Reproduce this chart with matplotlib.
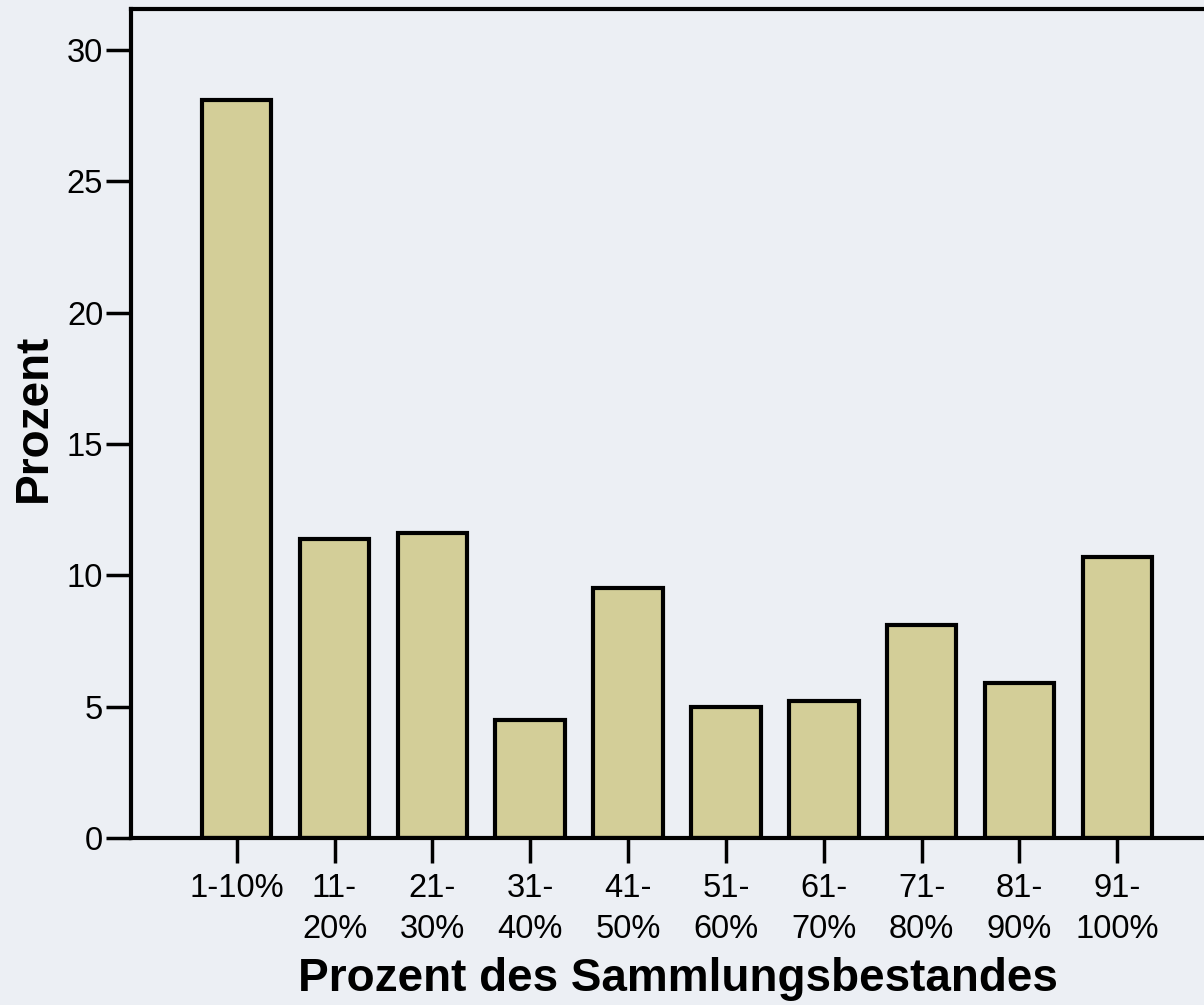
import matplotlib
matplotlib.use('Agg')
import matplotlib.pyplot as plt
import numpy as np

# values
categories = ['1-10%', '11-\n20%', '21-\n30%', '31-\n40%', '41-\n50%',
              '51-\n60%', '61-\n70%', '71-\n80%', '81-\n90%', '91-\n100%']
percent = [28.1, 11.4, 11.6, 4.5, 9.5, 5.0, 5.2, 8.1, 5.9, 10.7]
y_ticks = [0, 5, 10, 15, 20, 25, 30]

bg = '#ECEFF4'
bar_color = '#D3CE98'

plt.rcParams['font.family'] = ['Liberation Sans', 'DejaVu Sans']

fig = plt.figure(figsize=(12.04, 10.05), dpi=100, facecolor=bg)
ax = fig.add_axes([0.1088, 0.1662, 0.9086, 0.8248])
ax.set_facecolor(bg)

x = np.arange(len(categories))
ax.bar(x, percent, width=0.71, color=bar_color, edgecolor='black',
       linewidth=3, zorder=2)

ax.set_xlim(-1.08, 10.1)
ax.set_ylim(0, 31.56)
ax.set_xticks(x)
ax.set_xticklabels(categories, fontsize=23.5, linespacing=1.42, va='top')
ax.set_yticks(y_ticks)
ax.set_yticklabels([str(t) for t in y_ticks], fontsize=23.5)

ax.tick_params(axis='both', direction='out', length=18, width=2.5, color='black')
ax.tick_params(axis='y', pad=2)
ax.tick_params(axis='x', pad=7)

for side in ['left', 'bottom', 'top', 'right']:
    ax.spines[side].set_linewidth(3)
    ax.spines[side].set_color('black')
ax.spines['right'].set_visible(False)

ax.set_ylabel('Prozent', fontsize=33, fontweight='bold', labelpad=8)
ax.yaxis.label.set_y(0.507)
ax.set_xlabel('Prozent des Sammlungsbestandes', fontsize=33, fontweight='bold', labelpad=9)

fig.savefig('out.png', dpi=100, facecolor=bg)
